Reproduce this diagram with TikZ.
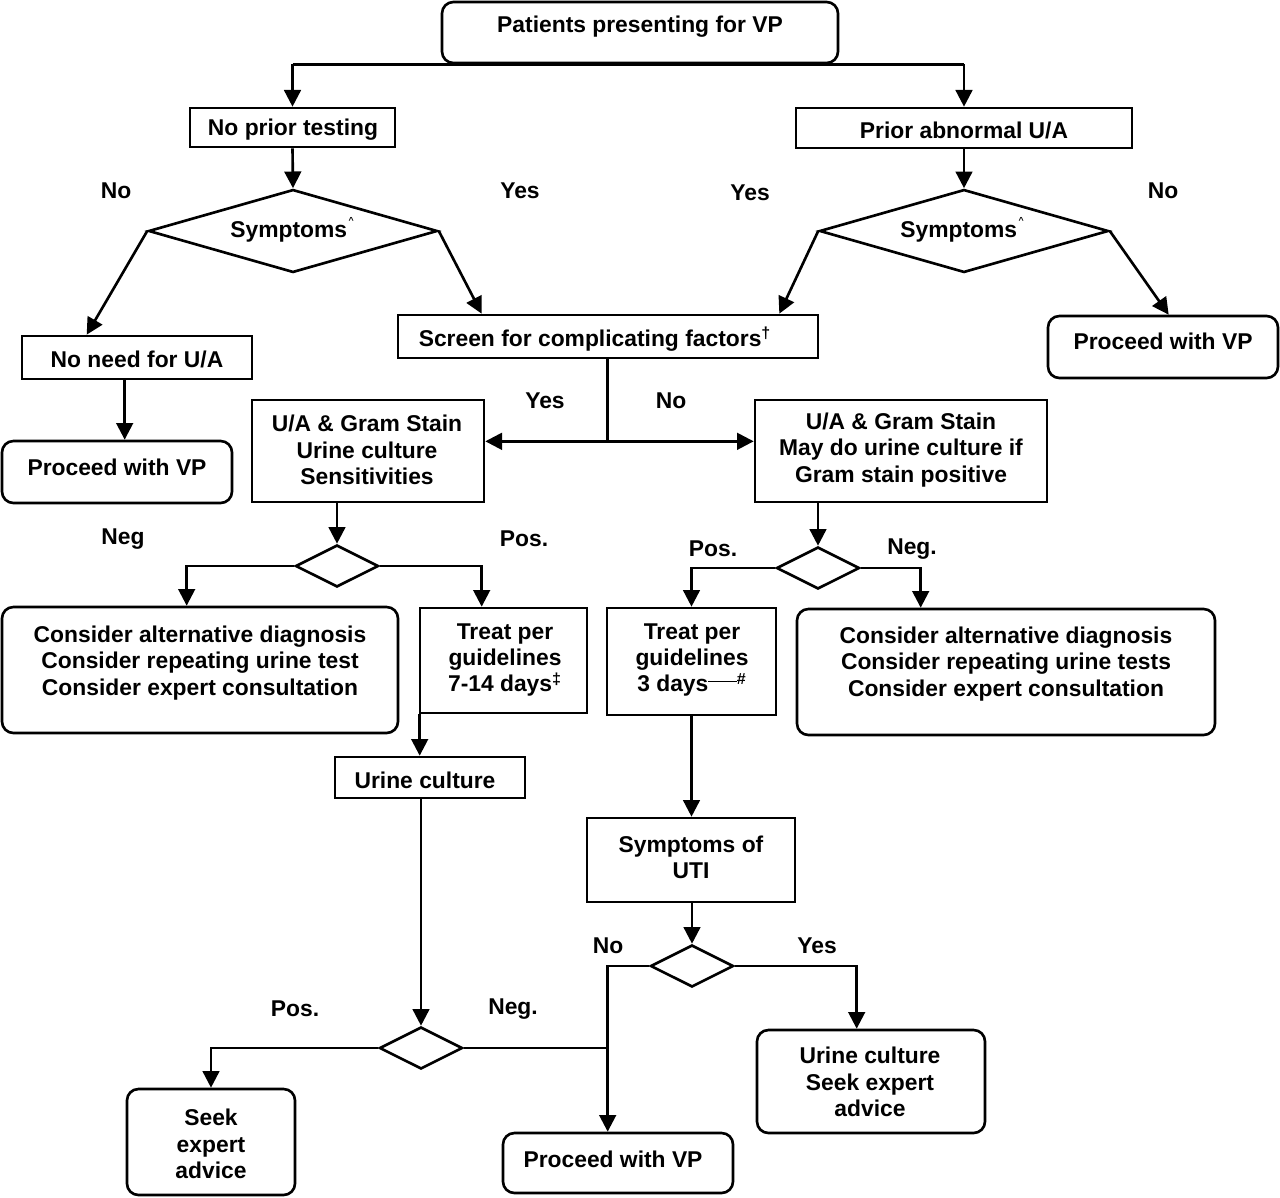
\documentclass[tikz,border=0pt]{standalone}
\usepackage{fontspec}
\setmainfont{Liberation Sans}
\usetikzlibrary{arrows.meta,shapes.geometric,fit,calc}
\begin{document}
\begin{tikzpicture}[x=0.02cm,y=-0.02cm,
  every node/.style={font=\fontsize{13}{15}\selectfont\bfseries},
  box/.style={draw, line width=1.5pt, inner sep=0pt},
  rbox/.style={box, rounded corners=6.5pt},
  txt/.style={align=center, inner sep=0pt},
  lbl/.style={inner sep=0pt},
  dia/.style={draw, diamond, line width=1.5pt, inner sep=0pt},
  bigdia/.style={dia, minimum width=5.78cm, minimum height=1.66cm},
  smalldia/.style={dia, minimum width=1.66cm, minimum height=0.84cm},
  ln/.style={line width=1.5pt},
  arr/.style={line width=1.5pt, -{Triangle[length=9.5pt,width=9.5pt]}}]
\useasboundingbox (0,0) rectangle (1280,1197);

% boxes
\node[rbox, fit={(442,2) (838,63)}] (top) {};
\node[box, fit={(190,108) (395,147)}] (npt) {};
\node[box, fit={(796,108) (1132,148)}] (pau) {};
\node[box, fit={(22,336) (252,379)}] (nna) {};
\node[rbox, fit={(2,441) (232,503)}] (pv1) {};
\node[box, fit={(398,315) (818,358)}] (scr) {};
\node[rbox, fit={(1048,316) (1278,378)}] (pv2) {};
\node[box, fit={(252,400) (484,502)}] (ua1) {};
\node[box, fit={(755,400) (1047,502)}] (ua2) {};
\node[rbox, fit={(2,607) (398,733)}] (cad1) {};
\node[box, fit={(420,608) (587,713)}] (tr1) {};
\node[box, fit={(335,757) (525,798)}] (uc) {};
\node[rbox, fit={(127,1089) (295,1195)}] (sea) {};
\node[rbox, fit={(503,1133) (733,1193)}] (pv3) {};
\node[box, fit={(607,608) (776,715)}] (tr2) {};
\node[rbox, fit={(797,609) (1215,735)}] (cad2) {};
\node[box, fit={(587,818) (795,902)}] (sut) {};
\node[rbox, fit={(757,1030) (985,1133)}] (ucs) {};

% diamonds
\node[bigdia] (d1) at (293,231) {};
\node[bigdia] (d2) at (964,231) {};
\node[smalldia] (d3) at (337,566) {};
\node[smalldia] (d4) at (421,1048) {};
\node[smalldia] (d5) at (818,568) {};
\node[smalldia] (d6) at (692,966) {};

% texts
\node[txt] (t-top) at (640,27) {Patients presenting for VP};
\node[txt] (t-npt) at (293,130) {No prior testing};
\node[txt] (t-pau) at (964,130) {Prior abnormal U/A};
\node[txt] (t-d1) at (292,230) {Symptoms\raisebox{1.2ex}{\tiny\,\textasciicircum}};
\node[txt] (t-d2) at (962,230) {Symptoms\raisebox{1.2ex}{\tiny\,\textasciicircum}};
\node[txt] (t-nna) at (137,359) {No need for U/A};
\node[txt] (t-pv1) at (117,467) {Proceed with VP};
\node[txt] (t-scr) at (595,339) {Screen for complicating factors\textsuperscript{\textdagger}};
\node[txt] (t-pv2) at (1163,341) {Proceed with VP};
\node[txt] (t-ua1) at (367,450) {U/A \& Gram Stain\\Urine culture\\Sensitivities};
\node[txt] (t-ua2) at (901,450) {U/A \& Gram Stain\\May do urine culture if\\Gram stain positive};
\node[txt] (t-cad1) at (200,663) {Consider alternative diagnosis\\Consider repeating urine test\\Consider expert consultation};
\node[txt] (t-tr1) at (505,660) {Treat per\\guidelines\\7-14 days\textsuperscript{\textdaggerdbl}};
\node[txt] (t-uc) at (425,780) {Urine culture};
\node[txt] (t-sea) at (211,1144) {Seek\\expert\\advice};
\node[txt] (t-pv3) at (613,1159) {Proceed with VP};
\node[txt] (t-tr2) at (692,660) {Treat per\\guidelines\\3 days\rule[0.42em]{1.25em}{0.8pt}\textsuperscript{\#}};
\node[txt] (t-cad2) at (1006,664) {Consider alternative diagnosis\\Consider repeating urine tests\\Consider expert consultation};
\node[txt] (t-sut) at (691,857) {Symptoms of\\UTI};
\node[txt] (t-ucs) at (870,1082) {Urine culture\\Seek expert\\advice};

% labels
\node[lbl] (l1) at (116,191) {No};
\node[lbl] (l2) at (520,191) {Yes};
\node[lbl] (l3) at (750,193) {Yes};
\node[lbl] (l4) at (1163,191) {No};
\node[lbl] (l5) at (545,401) {Yes};
\node[lbl] (l6) at (671,401) {No};
\node[lbl] (l7) at (123,539) {Neg};
\node[lbl] (l8) at (524,539) {Pos.};
\node[lbl] (l9) at (713,549) {Pos.};
\node[lbl] (l10) at (912,549) {Neg.};
\node[lbl] (l11) at (608,946) {No};
\node[lbl] (l12) at (817,946) {Yes};
\node[lbl] (l13) at (295,1009) {Pos.};
\node[lbl] (l14) at (513,1009) {Neg.};

% connectors
\draw[ln] (top.south -| npt.north) -- (top.south -| pau.north);
\draw[arr] (top.south -| npt.north) -- (npt.north);
\draw[arr] (top.south -| pau.north) -- (pau.north);
\draw[arr] (npt.south) -- (d1.north);
\draw[arr] (pau.south) -- (d2.north);
\draw[arr] (d1.west) -- ($(nna.north west)+(66,0)$);
\draw[arr] (d1.east) -- ($(scr.north west)+(85,0)$);
\draw[arr] (d2.west) -- ($(scr.north east)+(-40,0)$);
\draw[arr] (d2.east) -- ($(pv2.north west)+(122,0)$);
\draw[arr] ($(nna.south west)+(104,0)$) -- ($(pv1.north west)+(124,0)$);
\coordinate (j1) at ($(scr.south west)+(211,82)$);
\draw[ln] (j1 |- scr.south) -- (j1);
\draw[arr] (j1) -- (j1 -| ua1.east);
\draw[arr] (j1) -- (j1 -| ua2.west);
\draw[arr] (ua1.south -| d3.north) -- (d3.north);
\draw[arr] (d3.west) -| ($(cad1.north west)+(186,0)$);
\draw[arr] (d3.east) -| ($(tr1.north west)+(63,0)$);
\draw[arr] ($(tr1.south west)+(1,0)$) -- ($(uc.north west)+(86,0)$);
\draw[arr] (uc.south -| d4.north) -- (d4.north);
\draw[arr] (d4.west) -| (sea.north);
\coordinate (pvin) at ($(pv3.north west)+(106,0)$);
\draw[arr] (d6.west) -| (pvin);
\draw[ln] (d4.east) -- (d4.east -| pvin);
\draw[arr] (ua2.south -| d5.north) -- (d5.north);
\draw[arr] (d5.west) -| (tr2.north);
\draw[arr] (d5.east) -| ($(cad2.north west)+(125,0)$);
\draw[arr] (tr2.south) -- (tr2.south |- sut.north);
\draw[arr] (d6.north |- sut.south) -- (d6.north);
\draw[arr] (d6.east) -| ($(ucs.north west)+(101,0)$);
\end{tikzpicture}
\end{document}
